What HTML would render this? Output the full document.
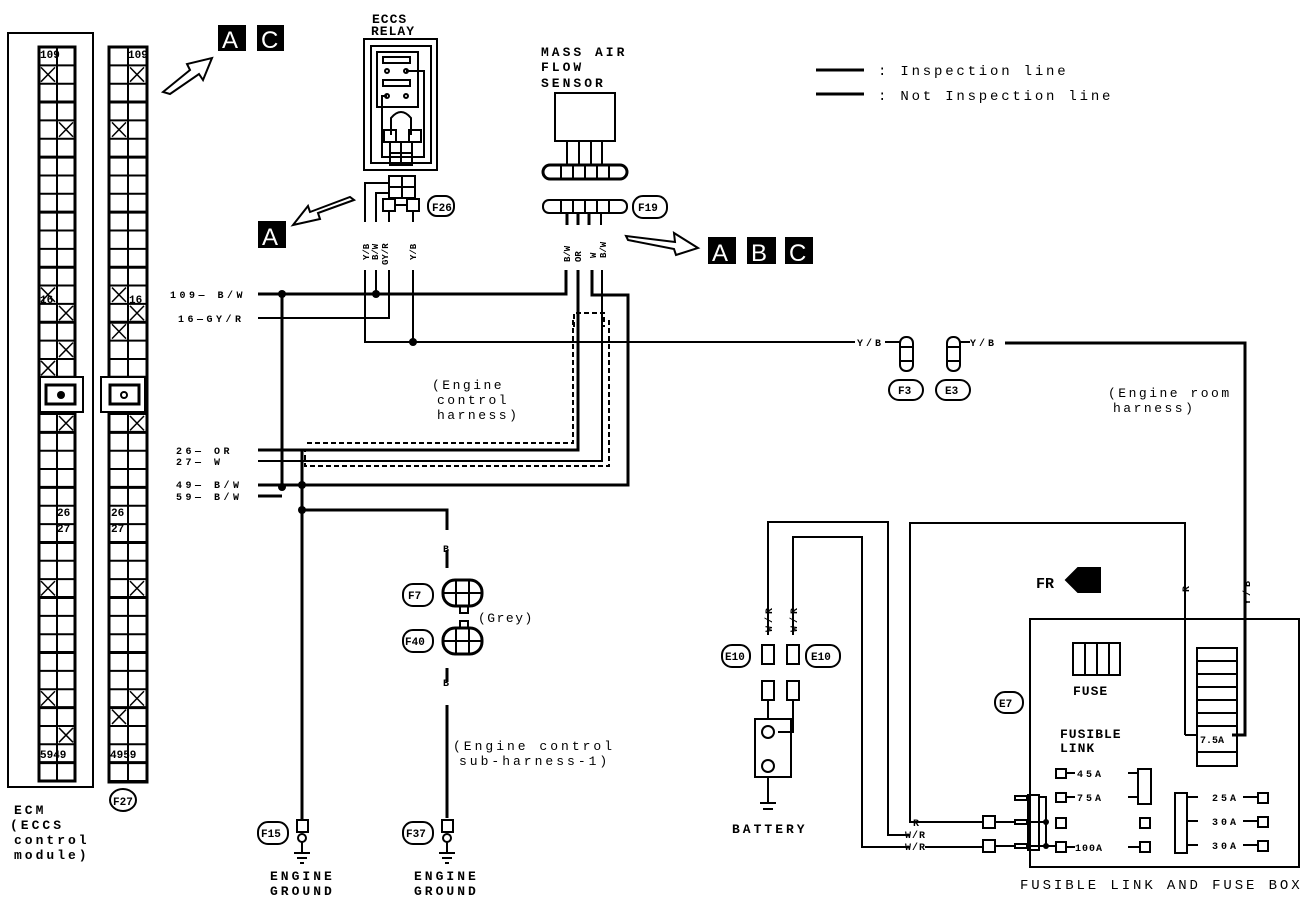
<!DOCTYPE html>
<html><head><meta charset="utf-8"><style>
html,body{margin:0;padding:0;background:#fff;}
svg{display:block;}
text{font-family:"Liberation Mono",monospace;fill:#000;letter-spacing:3px;}
.n{letter-spacing:0;}
</style></head><body>
<svg id="s" width="1312" height="904" viewBox="0 0 1312 904" xmlns="http://www.w3.org/2000/svg">
<g fill="none" stroke="#000" stroke-width="2">
<rect x="8" y="33" width="85" height="754"/>
<rect x="109" y="47" width="38" height="735" stroke-width="3"/>
<rect x="39" y="47" width="36" height="734" stroke-width="3"/>
</g>
<g id="grid" stroke="#000" fill="none"></g>
<g fill="none" stroke="#000" stroke-width="2">
<rect x="40" y="377" width="43" height="35" fill="#fff"/>
<rect x="46" y="385" width="29" height="19" stroke-width="3"/>
<rect x="101" y="377" width="44" height="35" fill="#fff"/>
<rect x="110" y="385" width="29" height="19" stroke-width="3"/>
</g>
<circle cx="61" cy="395" r="4" fill="#000"/>
<circle cx="124" cy="395" r="3" fill="none" stroke="#000" stroke-width="2"/>
<g font-size="11" font-weight="bold" class="n">
<text class="n" x="40" y="58">109</text><text class="n" x="128" y="58">109</text>
<text class="n" x="40" y="303">16</text><text class="n" x="129" y="303">16</text>
<text class="n" x="57" y="516">26</text><text class="n" x="111" y="516">26</text>
<text class="n" x="57" y="532">27</text><text class="n" x="111" y="532">27</text>
<text class="n" x="40" y="758">5949</text><text class="n" x="110" y="758">4959</text>
</g>
<g font-size="13" font-weight="bold">
<text x="14" y="814">ECM</text>
<text x="10" y="829">(ECCS</text>
<text x="14" y="844">control</text>
<text x="14" y="859">module)</text>
</g>
<ellipse cx="123" cy="800" rx="13" ry="11" fill="none" stroke="#000" stroke-width="2"/>
<text class="n" x="113" y="805" font-size="11" font-weight="bold">F27</text>

<g font-size="24">
<rect x="218" y="25" width="28" height="26" fill="#000"/><text class="n" x="222" y="48" style="fill:#fff;font-family:'Liberation Sans'">A</text>
<rect x="257" y="25" width="27" height="26" fill="#000"/><text class="n" x="261" y="48" style="fill:#fff;font-family:'Liberation Sans'">C</text>
<rect x="258" y="221" width="28" height="27" fill="#000"/><text class="n" x="262" y="245" style="fill:#fff;font-family:'Liberation Sans'">A</text>
<rect x="708" y="237" width="28" height="27" fill="#000"/><text class="n" x="712" y="261" style="fill:#fff;font-family:'Liberation Sans'">A</text>
<rect x="747" y="237" width="29" height="27" fill="#000"/><text class="n" x="751" y="261" style="fill:#fff;font-family:'Liberation Sans'">B</text>
<rect x="785" y="237" width="28" height="27" fill="#000"/><text class="n" x="789" y="261" style="fill:#fff;font-family:'Liberation Sans'">C</text>
</g>
<g fill="#fff" stroke="#000" stroke-width="2">
<polygon points="163,92 190,70 187,64 212,58 203,80 199,74 170,94"/>
<polygon points="354,200 318,213 320,219 293,225 308,206 310,212 350,197"/>
<polygon points="626,236 675,242 674,233 698,248 676,255 674,249 628,240"/>
<polygon points="1100,568 1078,568 1066,580 1078,592 1100,592" fill="#000"/>
</g>
<text class="n" x="1036" y="588" font-size="15" font-weight="bold">FR</text>

<g fill="none" stroke="#000" stroke-width="2">
<rect x="364" y="39" width="73" height="131"/>
<rect x="371" y="46" width="60" height="117"/>
<path d="M377 52 H418 V107 H377 Z"/>
<rect x="383" y="57" width="27" height="6"/>
<rect x="383" y="80" width="27" height="6"/>
<circle cx="387" cy="71" r="2"/><circle cx="406" cy="71" r="2"/><circle cx="387" cy="96" r="2"/><circle cx="406" cy="96" r="2"/>
<path d="M406 71 H424 V157 H382 V96 H387"/>
<path d="M391 135 V118 Q401 106 411 118 V135"/>
<rect x="384" y="130" width="12" height="12"/><rect x="409" y="130" width="12" height="12"/>
<rect x="390" y="142" width="22" height="23"/><line x1="401" y1="142" x2="401" y2="165"/><line x1="390" y1="153" x2="412" y2="153"/>
<rect x="389" y="176" width="26" height="22"/><line x1="402" y1="176" x2="402" y2="198"/><line x1="389" y1="187" x2="415" y2="187"/>
<rect x="383" y="199" width="12" height="12"/><rect x="407" y="199" width="12" height="12"/><line x1="395" y1="205" x2="407" y2="205"/>
<path d="M365 222 V183 H389"/><path d="M376 222 V193 H389"/>
<line x1="389" y1="211" x2="389" y2="222"/><line x1="413" y1="211" x2="413" y2="222"/>
<rect x="428" y="196" width="26" height="20" rx="9"/>
</g>
<text x="372" y="23" font-size="13" font-weight="bold" style="letter-spacing:1px">ECCS</text>
<text x="371" y="35" font-size="13" font-weight="bold" style="letter-spacing:1px">RELAY</text>
<text class="n" x="432" y="211" font-size="11" font-weight="bold">F26</text>
<g font-size="9" font-weight="bold">
<text class="n" transform="translate(369,260) rotate(-90)">Y/B</text>
<text class="n" transform="translate(378,260) rotate(-90)">B/W</text>
<text class="n" transform="translate(388,265) rotate(-90)">GY/R</text>
<text class="n" transform="translate(416,260) rotate(-90)">Y/B</text>
<text class="n" transform="translate(570,262) rotate(-90)">B/W</text>
<text class="n" transform="translate(581,262) rotate(-90)">OR</text>
<text class="n" transform="translate(596,258) rotate(-90)">W</text>
<text class="n" transform="translate(606,258) rotate(-90)">B/W</text>
</g>

<text x="541" y="56" font-size="13" font-weight="bold">MASS AIR</text>
<text x="541" y="71" font-size="13" font-weight="bold">FLOW</text>
<text x="541" y="87" font-size="13" font-weight="bold">SENSOR</text>
<g fill="none" stroke="#000" stroke-width="2">
<rect x="555" y="93" width="60" height="48"/>
<line x1="567" y1="141" x2="567" y2="165"/><line x1="579" y1="141" x2="579" y2="165"/><line x1="591" y1="141" x2="591" y2="165"/><line x1="602" y1="141" x2="602" y2="165"/>
<rect x="543" y="165" width="84" height="14" rx="7" stroke-width="3"/>
<line x1="561" y1="165" x2="561" y2="179"/><line x1="573" y1="165" x2="573" y2="179"/><line x1="585" y1="165" x2="585" y2="179"/><line x1="597" y1="165" x2="597" y2="179"/><line x1="609" y1="165" x2="609" y2="179"/>
<rect x="543" y="200" width="84" height="13" rx="6" stroke-width="2"/>
<line x1="561" y1="200" x2="561" y2="213"/><line x1="573" y1="200" x2="573" y2="213"/><line x1="585" y1="200" x2="585" y2="213"/><line x1="597" y1="200" x2="597" y2="213"/><line x1="609" y1="200" x2="609" y2="213"/>
<rect x="633" y="196" width="34" height="22" rx="10"/>
<line x1="567" y1="213" x2="567" y2="225" stroke-width="3"/><line x1="578" y1="213" x2="578" y2="225" stroke-width="3"/><line x1="589" y1="213" x2="589" y2="225" stroke-width="3"/><line x1="601" y1="213" x2="601" y2="225"/>
</g>
<text class="n" x="638" y="211" font-size="11" font-weight="bold">F19</text>

<line x1="816" y1="70" x2="864" y2="70" stroke="#000" stroke-width="3"/>
<line x1="816" y1="94" x2="864" y2="94" stroke="#000" stroke-width="3"/>
<text x="878" y="75" font-size="14" style="letter-spacing:2.8px">: Inspection line</text>
<text x="878" y="100" font-size="14" style="letter-spacing:2.8px">: Not Inspection line</text>

<g fill="none" stroke="#000">
<path d="M258 294 H566 V270" stroke-width="3"/>
<path d="M258 318 H389 V270" stroke-width="2"/>
<path d="M365 270 V342 H855" stroke-width="2"/>
<path d="M413 270 V342" stroke-width="2"/>
<path d="M376 270 V294" stroke-width="2"/>
<path d="M282 294 V487" stroke-width="3"/>
<path d="M258 450 H578 V270" stroke-width="3"/>
<path d="M258 461 H602 V270" stroke-width="2"/>
<path d="M592 270 V295 H628 V485 H258" stroke-width="3"/>
<path d="M258 496 H282" stroke-width="3"/>
<path d="M302 450 V820" stroke-width="3"/>
<path d="M302 510 H447 V530" stroke-width="3"/>
<path d="M447 550 V568" stroke-width="3"/>
<path d="M447 668 V682" stroke-width="3"/>
<path d="M447 705 V818" stroke-width="3"/>
<path d="M573 320 V443 H305" stroke-width="2" stroke-dasharray="5,3"/>
<path d="M574 327 V313 H604 V327" stroke-width="2" stroke-dasharray="5,3"/>
<path d="M609 320 V466 H305 V450" stroke-width="2" stroke-dasharray="5,3"/>
<path d="M1005 343 H1245 V735 H1232" stroke-width="3"/>
<path d="M1185 735 V523 H910 V822 H940" stroke-width="2"/>
<path d="M768 635 V522 H888 V835 H910" stroke-width="2"/>
<path d="M793 635 V537 H862 V847 H910" stroke-width="2"/>
<path d="M1185 735 H1198" stroke-width="2"/>
</g>
<g fill="#000">
<circle cx="282" cy="294" r="4"/><circle cx="376" cy="294" r="4"/><circle cx="413" cy="342" r="4"/>
<circle cx="282" cy="487" r="4"/><circle cx="302" cy="485" r="4"/><circle cx="302" cy="510" r="4"/>
</g>
<g font-size="10" font-weight="bold">
<text x="170" y="298" style="letter-spacing:3.5px">109— B/W</text>
<text x="178" y="322" style="letter-spacing:3.5px">16—GY/R</text>
<text x="176" y="454" style="letter-spacing:3.5px">26— OR</text>
<text x="176" y="465" style="letter-spacing:3.5px">27— W</text>
<text x="176" y="488" style="letter-spacing:3.5px">49— B/W</text>
<text x="176" y="500" style="letter-spacing:3.5px">59— B/W</text>
<text x="857" y="346">Y/B</text>
<text x="970" y="346">Y/B</text>
<text class="n" x="443" y="552">B</text><text class="n" x="443" y="686">B</text>
<text class="n" transform="translate(1189,592) rotate(-90)">R</text>
<text transform="translate(1250,605) rotate(-90)">Y/B</text>
<text transform="translate(772,632) rotate(-90)">W/R</text>
<text transform="translate(797,632) rotate(-90)">W/R</text>
<text class="n" x="913" y="826">R</text><text x="905" y="838" style="letter-spacing:1px">W/R</text><text x="905" y="850" style="letter-spacing:1px">W/R</text>
</g>
<g fill="none" stroke="#000" stroke-width="2">
<rect x="900" y="337" width="13" height="34" rx="6"/><line x1="900" y1="347" x2="913" y2="347"/><line x1="900" y1="361" x2="913" y2="361"/>
<rect x="947" y="337" width="13" height="34" rx="6"/><line x1="947" y1="347" x2="960" y2="347"/><line x1="947" y1="361" x2="960" y2="361"/>
<line x1="885" y1="342" x2="900" y2="342"/><line x1="960" y1="342" x2="970" y2="342"/>
<rect x="889" y="380" width="34" height="20" rx="10"/><rect x="936" y="380" width="34" height="20" rx="10"/>
</g>
<text class="n" x="898" y="394" font-size="11" font-weight="bold">F3</text>
<text class="n" x="945" y="394" font-size="11" font-weight="bold">E3</text>
<text x="1108" y="397" font-size="13" style="letter-spacing:2.5px">(Engine room</text>
<text x="1113" y="412" font-size="13" style="letter-spacing:2.5px">harness)</text>
<text x="432" y="389" font-size="13" style="letter-spacing:2.5px">(Engine</text>
<text x="437" y="404" font-size="13" style="letter-spacing:2.5px">control</text>
<text x="437" y="419" font-size="13" style="letter-spacing:2.5px">harness)</text>

<g fill="none" stroke="#000" stroke-width="2">
<rect x="443" y="580" width="39" height="26" rx="12" stroke-width="3"/><line x1="443" y1="593" x2="482" y2="593"/><line x1="456" y1="580" x2="456" y2="606"/><line x1="469" y1="580" x2="469" y2="606"/>
<rect x="460" y="606" width="8" height="7"/><rect x="460" y="621" width="8" height="7"/>
<rect x="443" y="628" width="39" height="26" rx="12" stroke-width="3"/><line x1="443" y1="641" x2="482" y2="641"/><line x1="456" y1="628" x2="456" y2="654"/><line x1="469" y1="628" x2="469" y2="654"/>
<rect x="403" y="584" width="30" height="22" rx="10"/><rect x="403" y="630" width="30" height="22" rx="10"/>
<rect x="403" y="822" width="30" height="22" rx="10"/><rect x="258" y="822" width="30" height="22" rx="10"/>
<rect x="297" y="820" width="11" height="12"/><circle cx="302" cy="838" r="4"/><rect x="442" y="820" width="11" height="12"/><circle cx="447" cy="838" r="4"/>
<line x1="302" y1="842" x2="302" y2="852"/><line x1="447" y1="842" x2="447" y2="852"/>
<line x1="294" y1="853" x2="310" y2="853"/><line x1="297" y1="858" x2="307" y2="858"/><line x1="300" y1="863" x2="304" y2="863"/>
<line x1="439" y1="853" x2="455" y2="853"/><line x1="442" y1="858" x2="452" y2="858"/><line x1="445" y1="863" x2="449" y2="863"/>
</g>
<g font-size="11" font-weight="bold">
<text class="n" x="408" y="599">F7</text><text class="n" x="405" y="645">F40</text><text class="n" x="261" y="837">F15</text><text class="n" x="406" y="837">F37</text>
</g>
<text x="478" y="622" font-size="13" style="letter-spacing:1.5px">(Grey)</text>
<text x="453" y="750" font-size="13">(Engine control</text>
<text x="459" y="765" font-size="13">sub-harness-1)</text>
<g font-size="13" font-weight="bold">
<text x="270" y="880">ENGINE</text><text x="270" y="895">GROUND</text>
<text x="414" y="880">ENGINE</text><text x="414" y="895">GROUND</text>
</g>

<g fill="none" stroke="#000" stroke-width="2">
<rect x="762" y="645" width="12" height="19"/><rect x="787" y="645" width="12" height="19"/>
<rect x="762" y="681" width="12" height="19"/><rect x="787" y="681" width="12" height="19"/>
<rect x="722" y="645" width="28" height="22" rx="10"/><rect x="806" y="645" width="34" height="22" rx="10"/>
<line x1="768" y1="700" x2="768" y2="720"/><path d="M793 700 V732 H778"/>
<rect x="755" y="719" width="36" height="58"/>
<circle cx="768" cy="732" r="6"/><circle cx="768" cy="766" r="6"/>
<line x1="768" y1="777" x2="768" y2="802"/><line x1="760" y1="803" x2="776" y2="803"/><line x1="763" y1="809" x2="773" y2="809"/>
</g>
<text class="n" x="725" y="660" font-size="11" font-weight="bold">E10</text><text class="n" x="811" y="660" font-size="11" font-weight="bold">E10</text>
<text x="732" y="833" font-size="13" font-weight="bold">BATTERY</text>

<g fill="none" stroke="#000" stroke-width="2">
<rect x="1030" y="619" width="269" height="248"/>
<rect x="1073" y="643" width="47" height="32"/><line x1="1085" y1="643" x2="1085" y2="675"/><line x1="1097" y1="643" x2="1097" y2="675"/><line x1="1109" y1="643" x2="1109" y2="675"/>
<rect x="1197" y="648" width="40" height="118"/>
<line x1="1197" y1="661" x2="1237" y2="661"/><line x1="1197" y1="674" x2="1237" y2="674"/><line x1="1197" y1="687" x2="1237" y2="687"/><line x1="1197" y1="700" x2="1237" y2="700"/><line x1="1197" y1="713" x2="1237" y2="713"/><line x1="1197" y1="726" x2="1237" y2="726"/><line x1="1197" y1="752" x2="1237" y2="752"/>
<rect x="995" y="692" width="28" height="21" rx="10"/>
<rect x="1056" y="769" width="10" height="9"/><rect x="1056" y="793" width="10" height="9"/><rect x="1056" y="818" width="10" height="10"/><rect x="1056" y="842" width="10" height="10"/>
<rect x="1138" y="769" width="13" height="35"/><rect x="1140" y="818" width="10" height="10"/><rect x="1140" y="842" width="10" height="10"/>
<rect x="1175" y="793" width="12" height="60"/>
<rect x="1258" y="793" width="10" height="10"/><rect x="1258" y="817" width="10" height="10"/><rect x="1258" y="841" width="10" height="10"/>
<path d="M1066 773 H1075 M1066 797 H1075 M1066 847 H1075 M1128 773 H1138 M1128 797 H1138 M1128 847 H1140 M1187 797 H1198 M1187 821 H1198 M1187 845 H1198 M1243 797 H1258 M1243 821 H1258 M1243 845 H1258"/>
<rect x="1015" y="796" width="12" height="4"/><rect x="1015" y="820" width="12" height="4"/><rect x="1015" y="844" width="12" height="4"/>
<rect x="1028" y="795" width="11" height="55"/>
<path d="M1028 822 H1046 M1028 846 H1056 M1039 797 H1046 V846"/>
<rect x="983" y="816" width="12" height="12"/><rect x="983" y="840" width="12" height="12"/>
<path d="M940 822 H983 M925 847 H983 M995 822 H1015 M995 846 H1015"/>
</g>
<circle cx="1046" cy="822" r="3"/><circle cx="1046" cy="846" r="3"/>
<text x="1073" y="695" font-size="13" font-weight="bold" style="letter-spacing:1px">FUSE</text>
<text x="1060" y="738" font-size="13" font-weight="bold" style="letter-spacing:1px">FUSIBLE</text>
<text x="1060" y="752" font-size="13" font-weight="bold" style="letter-spacing:1px">LINK</text>
<text class="n" x="999" y="707" font-size="11" font-weight="bold">E7</text>
<g font-size="10" font-weight="bold">
<text class="n" x="1200" y="743">7.5A</text>
<text x="1077" y="777">45A</text><text x="1077" y="801">75A</text><text x="1075" y="851" style="letter-spacing:1px">100A</text>
<text x="1212" y="801">25A</text><text x="1212" y="825">30A</text><text x="1212" y="849">30A</text>
</g>
<text x="1020" y="889" font-size="14" style="letter-spacing:2.9px">FUSIBLE LINK AND FUSE BOX</text>
</svg>
<script>
(function(){
var g=document.getElementById('grid'),ns='http://www.w3.org/2000/svg';
function L(x1,y1,x2,y2,w){var l=document.createElementNS(ns,'line');l.setAttribute('x1',x1);l.setAttribute('y1',y1);l.setAttribute('x2',x2);l.setAttribute('y2',y2);l.setAttribute('stroke-width',w||2);g.appendChild(l);}
var top=47,rh=18.35,n=40;
[[39,75],[109,147]].forEach(function(c){
 var m=(c[0]+c[1])/2;L(m,top,m,781,2);
 for(var i=0;i<=n;i++){var y=top+i*rh;L(c[0],y,c[1],y,(i%3==0)?3:2);}
});
var xl=[[0,1],[1,4],[0,13],[1,14],[1,16],[0,17],[1,18],[0,19],[1,20],[0,29],[0,35],[1,37]];
var xr=[[1,1],[0,4],[0,13],[1,14],[0,15],[1,18],[0,19],[1,20],[1,29],[1,35],[0,36]];
function X(x,i){var y=top+i*rh;L(x+2,y+2,x+16,y+rh-2,1.5);L(x+16,y+2,x+2,y+rh-2,1.5);}
xl.forEach(function(p){X(p[0]?57:39,p[1]);});
xr.forEach(function(p){X(p[0]?128:110,p[1]);});
})();
</script>
</body></html>
